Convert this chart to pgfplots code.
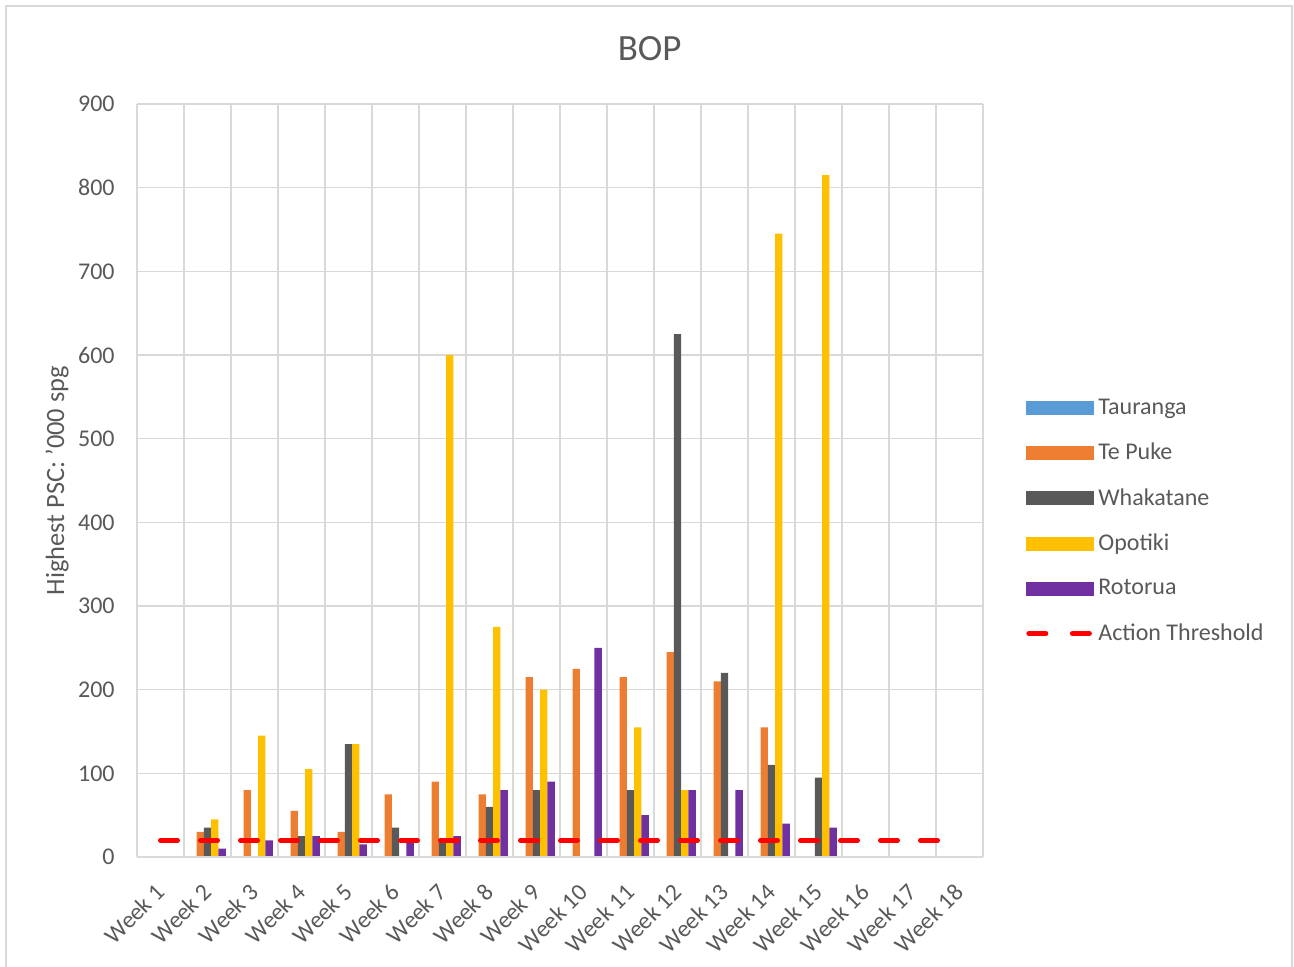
\documentclass[border=0pt]{standalone}
\usepackage{pgfplots}
\pgfplotsset{compat=1.18}
\usepackage{fontspec}
\setmainfont{Carlito}
\definecolor{txt}{HTML}{595959}
\definecolor{grd}{HTML}{D9D9D9}
\definecolor{cTau}{HTML}{5B9BD5}
\definecolor{cTep}{HTML}{ED7D31}
\definecolor{cWha}{HTML}{595959}
\definecolor{cOpo}{HTML}{FFC000}
\definecolor{cRot}{HTML}{7030A0}
\begin{document}
\begin{tikzpicture}
\useasboundingbox (-68.5pt,-54.5pt) rectangle (578.5pt,428.5pt);
\draw[grd, line width=0.6pt] (-65.5pt,-60pt) -- (-65.5pt,425.5pt) -- (577.5pt,425.5pt) -- (577.5pt,-60pt);
\begin{axis}[
  scale only axis,
  width=423pt, height=376.5pt,
  xmin=0.5, xmax=18.5,
  ymin=0, ymax=900,
  ytick={0,100,...,900},
  xtick={1,...,18},
  xticklabels={Week 1,Week 2,Week 3,Week 4,Week 5,Week 6,Week 7,Week 8,Week 9,Week 10,Week 11,Week 12,Week 13,Week 14,Week 15,Week 16,Week 17,Week 18},
  minor xtick={0.5,1.5,...,18.5},
  xminorgrids=true, xmajorgrids=false, ymajorgrids=true,
  grid style={grd, line width=0.8pt},
  minor grid style={grd, line width=0.8pt},
  major tick length=0pt, minor tick length=0pt,
  axis line style={draw=none},
  tick label style={font=\fontsize{12}{14}\selectfont, text=txt},
  yticklabel style={inner sep=0pt, xshift=-11pt},
  xticklabel style={xshift=-3.1pt, yshift=-12.3pt, rotate=45, anchor=north east, inner sep=0pt},
  /pgf/number format/assume math mode=true,
  ylabel={Highest PSC: '000 spg},
  every axis y label/.style={at={(axis description cs:-0.0946,0.5)}, rotate=90, anchor=center, font=\fontsize{13.2}{15}\selectfont, text=txt},
  title={BOP},
  every axis title/.style={at={(axis description cs:0.606,1.073)}, anchor=center, font=\fontsize{18.5}{21}\selectfont, text=txt},
  ybar=0pt, bar width=3.65pt,
  legend style={draw=none, fill=none, at={(axis description cs:1.0437,0.446)}, anchor=west,
    font=\fontsize{12}{14}\selectfont, text=txt, row sep=8.9pt, cells={anchor=west}},
  legend image code/.code={\fill[#1] (0pt,-3.5pt) rectangle (34pt,3.5pt);},
]
\addplot[fill=cTau, draw=none] coordinates {(1,0) (2,0) (3,0) (4,0) (5,0) (6,0) (7,0) (8,0) (9,0) (10,0) (11,0) (12,0) (13,0) (14,0) (15,0) (16,0) (17,0) (18,0)};
\addlegendentry{Tauranga}
\addplot[fill=cTep, draw=none] coordinates {(1,0) (2,30) (3,80) (4,55) (5,30) (6,75) (7,90) (8,75) (9,215) (10,225) (11,215) (12,245) (13,210) (14,155) (15,0) (16,0) (17,0) (18,0)};
\addlegendentry{Te Puke}
\addplot[fill=cWha, draw=none] coordinates {(1,0) (2,35) (3,0) (4,25) (5,135) (6,35) (7,20) (8,60) (9,80) (10,0) (11,80) (12,625) (13,220) (14,110) (15,95) (16,0) (17,0) (18,0)};
\addlegendentry{Whakatane}
\addplot[fill=cOpo, draw=none] coordinates {(1,0) (2,45) (3,145) (4,105) (5,135) (6,0) (7,600) (8,275) (9,200) (10,0) (11,155) (12,80) (13,0) (14,745) (15,815) (16,0) (17,0) (18,0)};
\addlegendentry{Opotiki}
\addplot[fill=cRot, draw=none] coordinates {(1,0) (2,10) (3,20) (4,25) (5,15) (6,18) (7,25) (8,80) (9,90) (10,250) (11,50) (12,80) (13,80) (14,40) (15,35) (16,0) (17,0) (18,0)};
\addlegendentry{Rotorua}
\addplot[sharp plot, red, line width=2.5pt, line cap=round, dash pattern=on 8.5pt off 11.5pt,
  legend image code/.code={\draw[red, line width=2.5pt, line cap=round] (1.25pt,0pt) -- (9.75pt,0pt) (23pt,0pt) -- (32.5pt,0pt);}]
  coordinates {(1,20) (2,20) (3,20) (4,20) (5,20) (6,20) (7,20) (8,20) (9,20) (10,20) (11,20) (12,20) (13,20) (14,20) (15,20) (16,20) (17,20) (18,20)};
\addlegendentry{Action Threshold}
\end{axis}
\draw[grd, line width=1pt] (0pt,0pt) -- (423pt,0pt);
\end{tikzpicture}
\end{document}
